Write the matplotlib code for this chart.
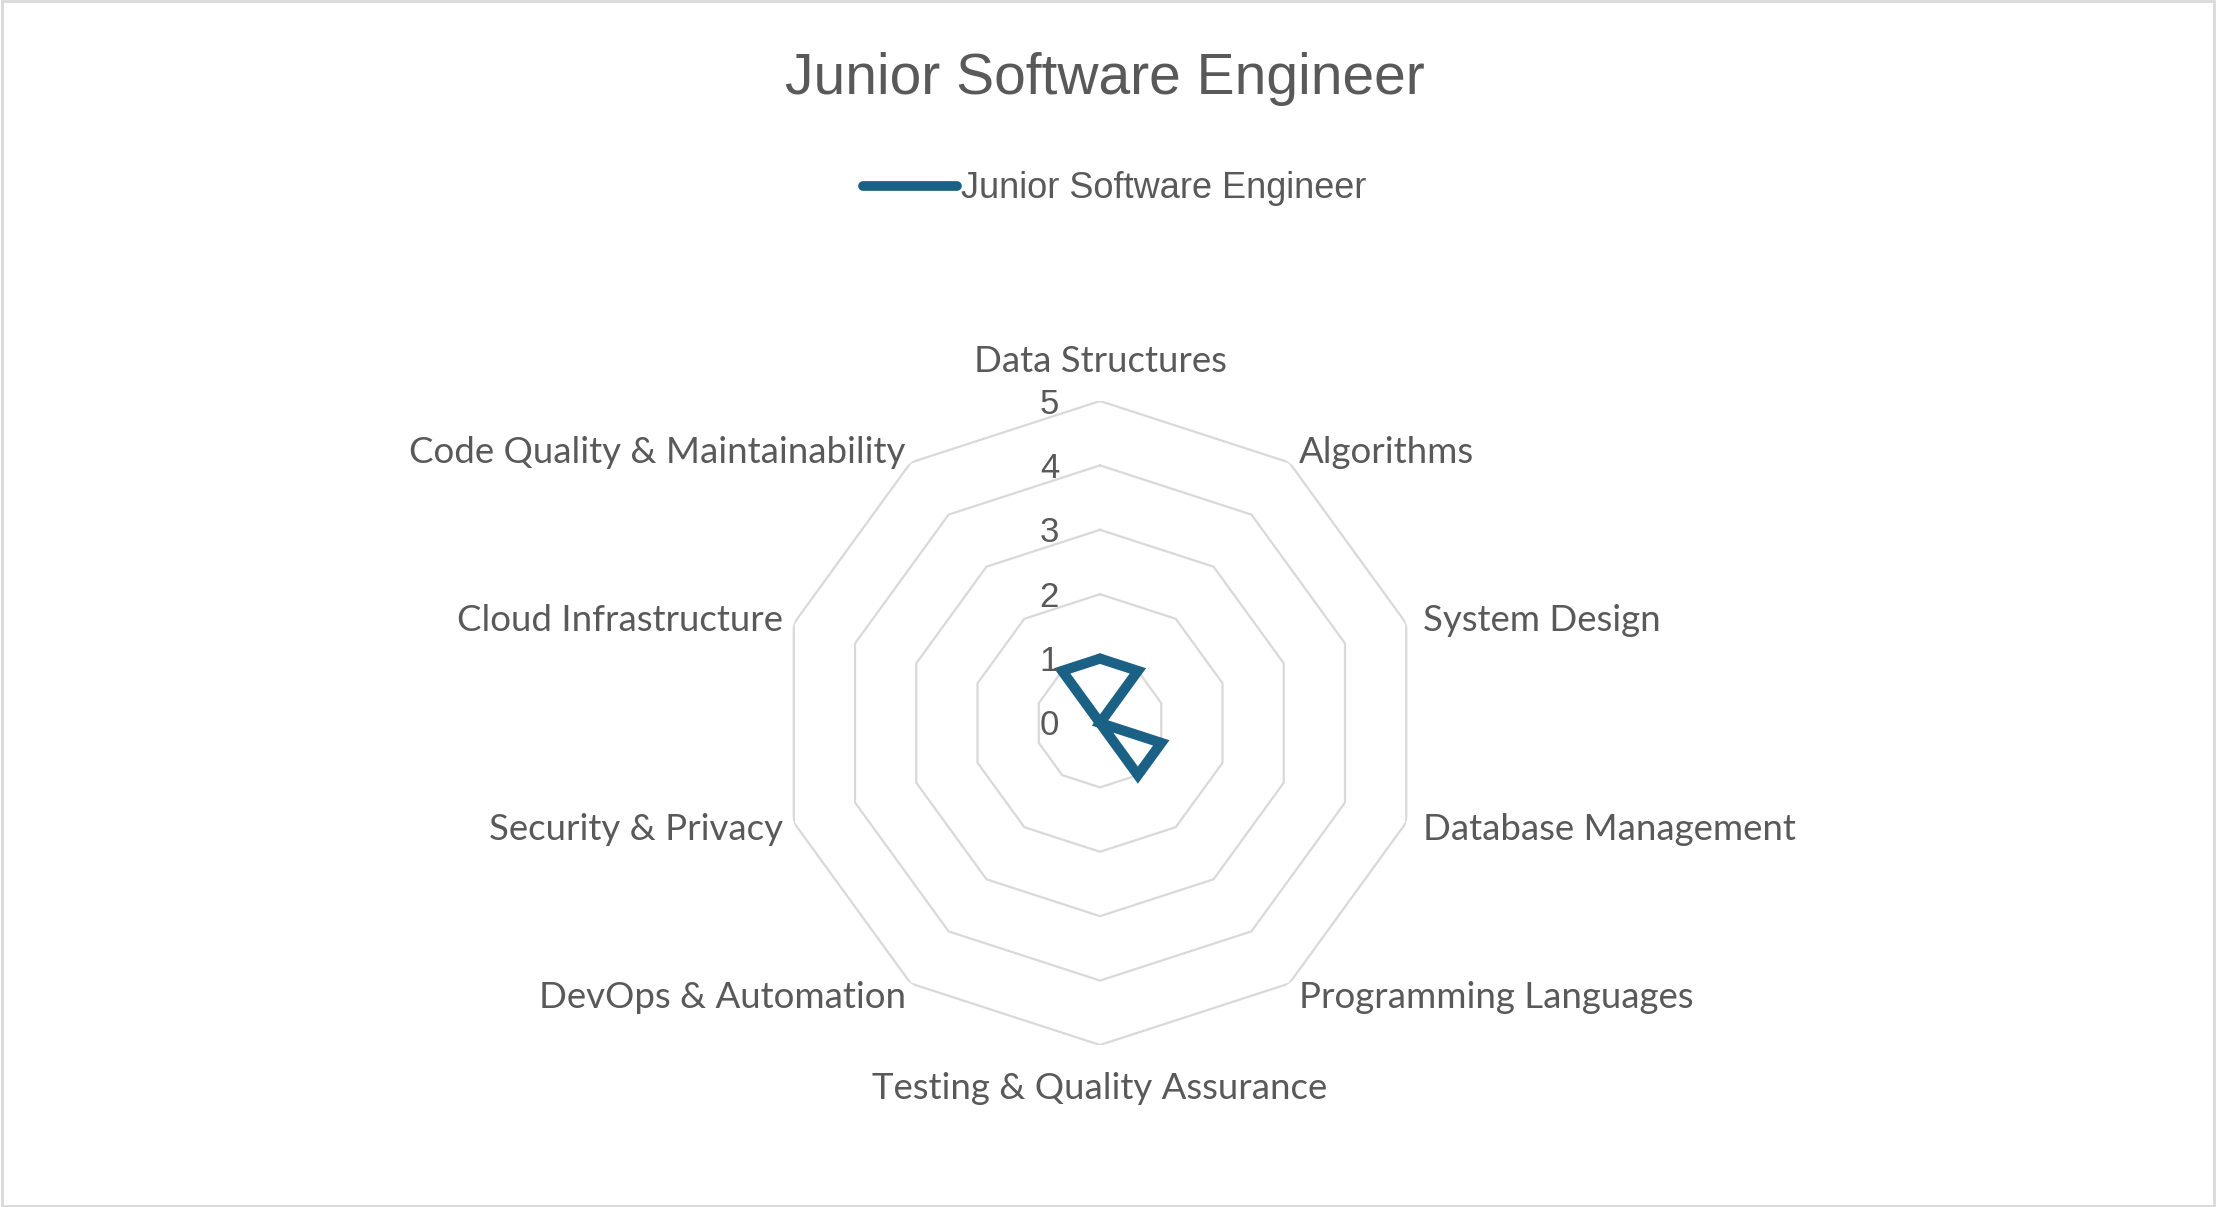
import numpy as np
import matplotlib
matplotlib.use('Agg')
import matplotlib.pyplot as plt
from matplotlib.patches import Rectangle

categories = ["Data Structures", "Algorithms", "System Design", "Database Management",
              "Programming Languages", "Testing & Quality Assurance", "DevOps & Automation",
              "Security & Privacy", "Cloud Infrastructure", "Code Quality & Maintainability"]
values = [1, 1, 0, 1, 1, 0, 0, 0, 0, 1]
ring_values = [1, 2, 3, 4, 5]
tick_labels = ["0", "1", "2", "3", "4", "5"]
series_name = "Junior Software Engineer"

line_color = "#1b6185"
text_color = "#595959"
grid_color = "#d9d9d9"
label_font = ["Lato", "DejaVu Sans"]
narrow_font = ["Liberation Sans Narrow", "Liberation Sans", "DejaVu Sans"]

fig = plt.figure(figsize=(22.16, 12.07), dpi=100)
ax = fig.add_axes([0.3511, 0.1342, 0.2906, 0.5336], projection='polar')
ax.set_theta_offset(np.pi / 2)
ax.set_theta_direction(-1)

n = len(categories)
angles = np.arange(n) * 2 * np.pi / n
closed = np.append(angles, angles[0])

# decagon rings instead of circular grid
for r in ring_values:
    ax.plot(closed, [r] * (n + 1), color=grid_color, lw=1.6, zorder=1)

ax.plot(closed, values + [values[0]], color=line_color, lw=7.3, solid_joinstyle='miter',
        solid_capstyle='round', zorder=3)

ax.set_ylim(0, 5)
ax.grid(False)
ax.spines['polar'].set_visible(False)
ax.set_xticks([])
ax.set_yticks([])
ax.patch.set_alpha(0)

for i, lab in enumerate(tick_labels):
    ax.annotate(lab, xy=(0, i), xytext=(-41, -3), textcoords='offset pixels',
                ha='right', va='center', fontsize=25, color=text_color,
                family=["Liberation Sans", "DejaVu Sans"])

# label offsets in pixels (dx, dy, ha)
offsets = [(0, 40, 'center'), (10, 10, 'left'), (17, 3, 'left'), (17, -7, 'left'),
           (10, -14, 'left'), (0, -44, 'center'), (-5, -14, 'right'), (-11, -7, 'right'),
           (-11, 3, 'right'), (-5, 10, 'right')]
for ang, cat, (dx, dy, ha) in zip(angles, categories, offsets):
    ax.annotate(cat, xy=(ang, 5), xytext=(dx, dy), textcoords='offset pixels',
                ha=ha, va='center', fontsize=26.4, color=text_color, family=label_font,
                annotation_clip=False)

fig.text(0.4986, 1 - 79 / 1207, series_name, ha='center', va='center', fontsize=41,
         color=text_color, family=narrow_font)

handle = plt.Line2D([], [], color=line_color, lw=7, solid_capstyle='round')
leg = fig.legend([handle], [series_name], loc='center', bbox_to_anchor=(0.503, 1 - 189 / 1207),
                 frameon=False, handlelength=2.6, handletextpad=0.1,
                 prop={'family': narrow_font, 'size': 26})
for t in leg.get_texts():
    t.set_color(text_color)

fig.patches.append(Rectangle((0.001, 0.001), 0.998, 0.998, transform=fig.transFigure,
                             fill=False, edgecolor=grid_color, lw=2))

fig.savefig('out.png', dpi=100, facecolor='white')
